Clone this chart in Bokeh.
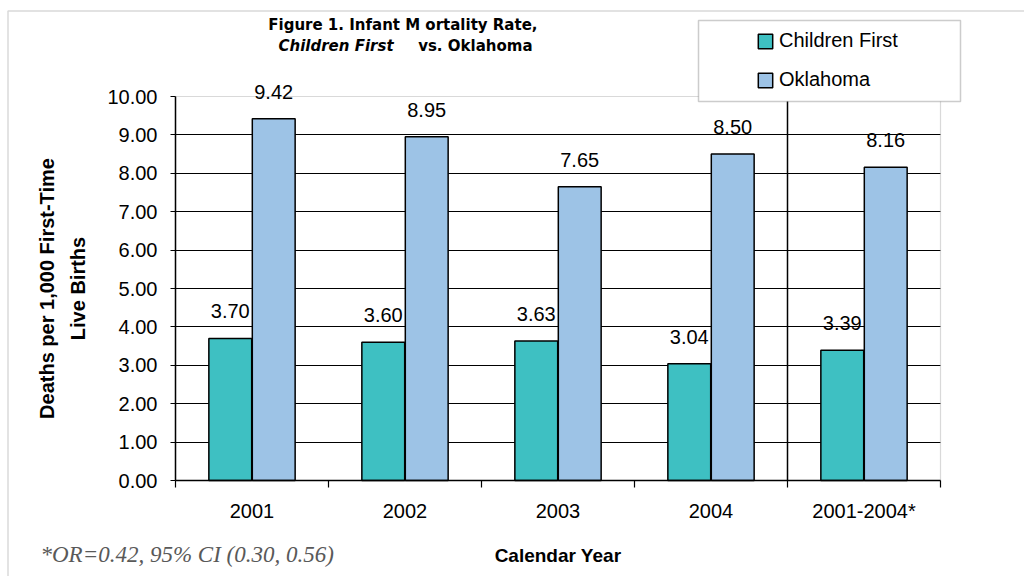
from bokeh.plotting import figure
from bokeh.models import (ColumnDataSource, FixedTicker, NumeralTickFormatter, Range1d,
                          Legend, LegendItem, BoxAnnotation, Label, LabelSet, Grid)
from bokeh.core.properties import value
from bokeh.transform import dodge
from bokeh.embed import file_html
from bokeh.resources import INLINE

# ---- data ----
categories = ["2001", "2002", "2003", "2004", "2001-2004*"]
children_first = [3.70, 3.60, 3.63, 3.04, 3.39]
oklahoma = [9.42, 8.95, 7.65, 8.50, 8.16]
series_names = ["Children First", "Oklahoma"]
y_ticks = [0, 1, 2, 3, 4, 5, 6, 7, 8, 9, 10]
title_line1 = "Figure 1.  Infant M ortality Rate,"
title_line2a = "Children First"
title_line2b = "vs. Oklahoma"
footnote = "*OR=0.42, 95% CI (0.30, 0.56)"
x_title = "Calendar Year"
y_title = "Deaths per 1,000 First-Time\nLive Births"

TEAL = "#3EC0C2"
LBLUE = "#9DC3E6"
GRAY = "#808080"
FONT = "Liberation Sans"

# ---- layout (pixels) ----
W, H = 1024, 576
PX_L, PX_R, PX_T, PX_B = 175, 940, 96, 480

n = len(categories)
ymin, ymax = y_ticks[0], y_ticks[-1]
xppu = (PX_R - PX_L) / n
yppu = (PX_B - PX_T) / (ymax - ymin)

centers = [i + 0.5 for i in range(n)]
src = ColumnDataSource(dict(
    x=centers,
    cf=children_first,
    ok=oklahoma,
    cf_txt=[f"{v:.2f}" for v in children_first],
    ok_txt=[f"{v:.2f}" for v in oklahoma],
))

p = figure(width=W, height=H, output_backend="svg", toolbar_location=None,
           x_range=Range1d(0 - PX_L / xppu, n + (W - PX_R) / xppu),
           y_range=Range1d(ymin - (H - PX_B) / yppu, ymax + PX_T / yppu),
           min_border=0, min_border_left=0, min_border_right=0,
           min_border_top=0, min_border_bottom=0)
p.outline_line_color = None
p.background_fill_color = "white"
p.border_fill_color = "white"

# outer chart border (only left/top edges fall inside the canvas)
p.add_layout(BoxAnnotation(left=7.5, right=W + 50, top=H - 10.5, bottom=-50,
                           left_units="screen", right_units="screen",
                           top_units="screen", bottom_units="screen",
                           fill_alpha=0, line_color=GRAY, line_width=1.5, level="underlay"))

# plot-area border (gray)
p.add_layout(BoxAnnotation(left=0, right=n, bottom=ymin, top=ymax,
                           fill_alpha=0, line_color=GRAY, line_width=1.2, level="underlay"))

# grid
p.xgrid.visible = False
p.ygrid.ticker = FixedTicker(ticks=y_ticks[1:-1])
p.ygrid.grid_line_color = "black"
p.ygrid.grid_line_width = 1
if "cross_bounds" in Grid.properties():
    p.ygrid.cross_bounds = (0, n)
else:
    p.ygrid.visible = False
    p.segment(x0=[0] * (len(y_ticks) - 2), x1=[n] * (len(y_ticks) - 2),
              y0=y_ticks[1:-1], y1=y_ticks[1:-1], line_color="black", line_width=1)

bw = 0.28
off = 0.142
r1 = p.vbar(x=dodge("x", -off), top="cf", width=bw, source=src,
            fill_color=TEAL, line_color="black", line_width=1.5)
r2 = p.vbar(x=dodge("x", off), top="ok", width=bw, source=src,
            fill_color=LBLUE, line_color="black", line_width=1.5)

# separator between yearly and pooled columns
p.segment(x0=[n - 1], x1=[n - 1], y0=[ymin], y1=[ymax], line_color="black", line_width=1.5)

# x axis (fixed at y = 0)
xa = p.xaxis[0]
xa.fixed_location = ymin
xa.bounds = (0, n)
xa.ticker = FixedTicker(ticks=centers, minor_ticks=list(range(n + 1)))
xa.major_label_overrides = {c: lab for c, lab in zip(centers, categories)}
xa.major_tick_line_color = None
xa.major_tick_out = 0
xa.major_tick_in = 0
xa.minor_tick_out = 7
xa.minor_tick_in = 0
xa.minor_tick_line_color = "black"
xa.minor_tick_line_width = 1.2
xa.axis_line_color = "black"
xa.axis_line_width = 1.5
xa.major_label_text_font = FONT
xa.major_label_text_font_size = "20px"
xa.major_label_text_color = "black"
xa.major_label_standoff = 12
xa.axis_label = x_title
xa.axis_label_text_font = FONT
xa.axis_label_text_font_style = "bold"
xa.axis_label_text_font_size = "19px"
xa.axis_label_text_color = "black"
xa.axis_label_standoff = 20

# y axis (fixed at x = 0)
ya = p.yaxis[0]
ya.fixed_location = 0
ya.bounds = (ymin, ymax)
ya.ticker = FixedTicker(ticks=y_ticks)
ya.formatter = NumeralTickFormatter(format="0.00")
ya.major_tick_out = 5
ya.major_tick_in = 0
ya.major_tick_line_color = "black"
ya.minor_tick_line_color = None
ya.minor_tick_out = 0
ya.minor_tick_in = 0
ya.axis_line_color = "black"
ya.axis_line_width = 1.5
ya.major_label_text_font = FONT
ya.major_label_text_font_size = "20px"
ya.major_label_text_color = "black"
ya.major_label_standoff = 13
ya.axis_label = y_title
ya.axis_label_text_font = FONT
ya.axis_label_text_font_style = "bold"
ya.axis_label_text_font_size = "20px"
ya.axis_label_text_color = "black"
ya.axis_label_text_line_height = 1.45
ya.axis_label_standoff = 15

# value labels
for fld, txt, dx in (("cf", "cf_txt", -off), ("ok", "ok_txt", off)):
    p.add_layout(LabelSet(x=dodge("x", dx), y=fld, text=txt, source=src,
                          text_align="center", text_baseline="alphabetic", y_offset=20,
                          text_font=value(FONT), text_font_size=value("20px"),
                          text_color="black"))

# legend box
p.add_layout(BoxAnnotation(left=698, right=960, top=H - 20, bottom=H - 101,
                           left_units="screen", right_units="screen",
                           top_units="screen", bottom_units="screen",
                           fill_color="white", fill_alpha=1,
                           line_color="#555555", line_width=1.5))

legend = Legend(items=[LegendItem(label=series_names[0], renderers=[r1]),
                       LegendItem(label=series_names[1], renderers=[r2])],
                location=(756, H - 91), orientation="vertical",
                padding=0, margin=0, spacing=16,
                glyph_width=18, glyph_height=18, label_standoff=5,
                label_height=23,
                label_text_font=FONT, label_text_font_size="20px",
                label_text_color="black",
                border_line_alpha=0, background_fill_alpha=0)
p.add_layout(legend)

# title
TF = "DejaVu Sans"
p.add_layout(Label(x=405, y=H - 24, x_units="screen", y_units="screen", text=title_line1,
                   text_align="center", text_baseline="middle",
                   text_font=TF, text_font_style="bold", text_font_size="15px",
                   text_color="black"))
p.add_layout(Label(x=278, y=H - 45, x_units="screen", y_units="screen", text=title_line2a,
                   text_align="left", text_baseline="middle",
                   text_font=TF, text_font_style="bold italic", text_font_size="15px",
                   text_color="black"))
p.add_layout(Label(x=532, y=H - 45, x_units="screen", y_units="screen", text=title_line2b,
                   text_align="right", text_baseline="middle",
                   text_font=TF, text_font_style="bold", text_font_size="15px",
                   text_color="black"))

# footnote
p.add_layout(Label(x=40, y=H - 554, x_units="screen", y_units="screen", text=footnote,
                   text_align="left", text_baseline="middle",
                   text_font="Liberation Serif", text_font_style="italic", text_font_size="23px",
                   text_color="#595959"))

open("out.html", "w").write(file_html(p, INLINE))
